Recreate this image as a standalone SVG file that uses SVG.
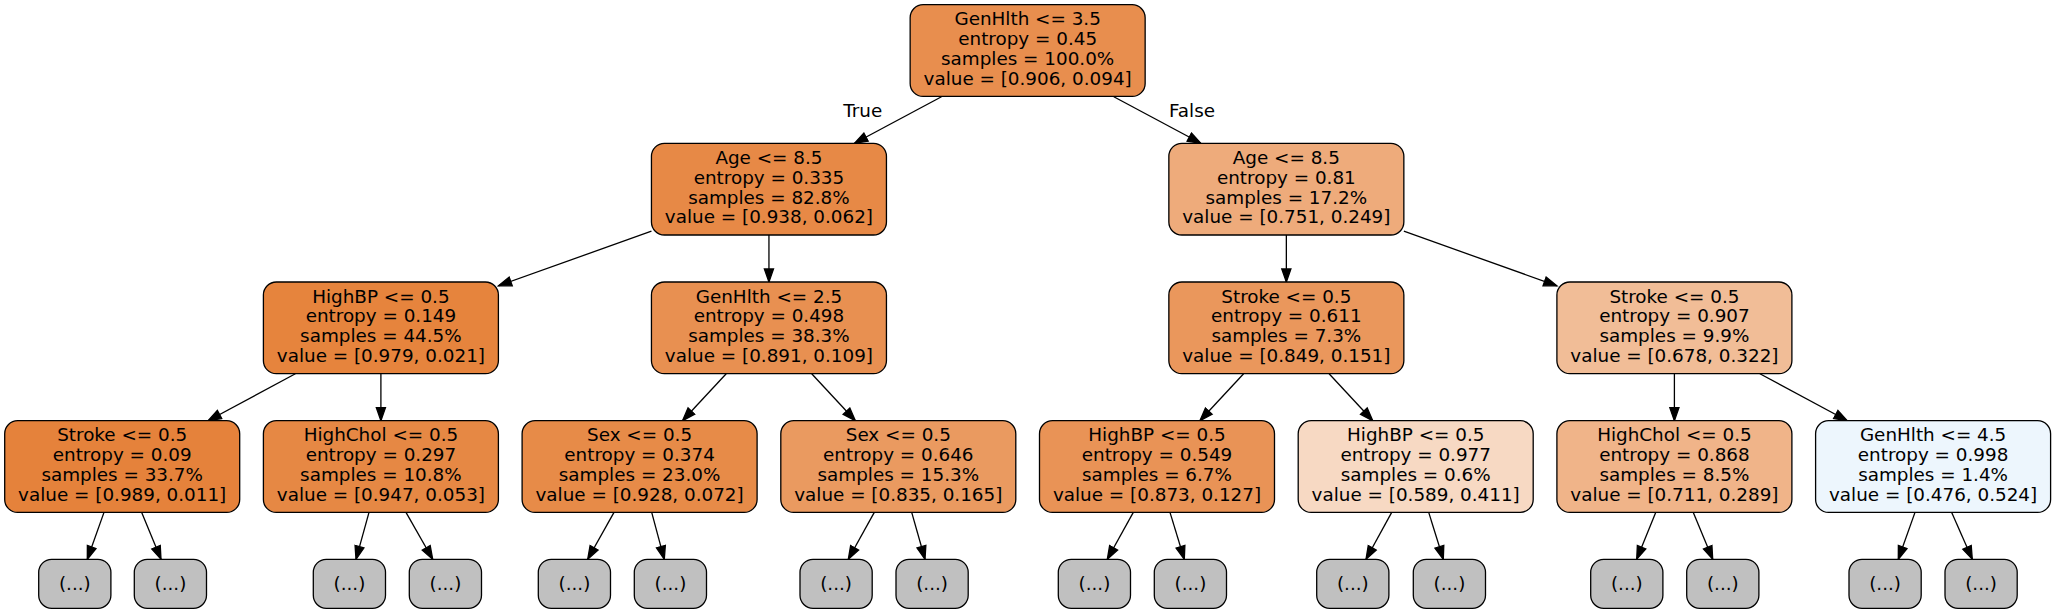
<svg xmlns="http://www.w3.org/2000/svg" width="2056" height="613" viewBox="0 0 2056 613">
<defs>
<marker id="arr" markerUnits="userSpaceOnUse" markerWidth="16" markerHeight="12" viewBox="0 -6 14 12" refX="13.1" refY="0" orient="auto">
<path d="M0,-4.6 L13.1,0 L0,4.6 z" fill="#000" stroke="#000" stroke-width="1.3"/>
</marker>
</defs>
<style>
.n rect{stroke:#000;stroke-width:1.3}
text{font-family:"DejaVu Sans","Liberation Sans",sans-serif;font-size:18.35px;fill:#000;text-anchor:middle}
.e line{stroke:#000;stroke-width:1.3;marker-end:url(#arr)}
.leaf rect{fill:#c0c0c0}
</style>
<rect width="2056" height="613" fill="#fff"/>
<g id="edges" class="e">
<line x1="941.5" y1="96.7" x2="854.5" y2="143.3"/>
<line x1="1113.8" y1="96.7" x2="1200.8" y2="143.3"/>
<line x1="651.45" y1="231.15" x2="498.4" y2="285.85"/>
<line x1="768.95" y1="235" x2="768.95" y2="282"/>
<line x1="1286.35" y1="235" x2="1286.35" y2="282"/>
<line x1="1403.85" y1="231.15" x2="1556.9" y2="285.85"/>
<line x1="295.4" y1="373.7" x2="208" y2="420.7"/>
<line x1="380.9" y1="373.7" x2="380.9" y2="420.7"/>
<line x1="726.2" y1="373.7" x2="682.5" y2="420.7"/>
<line x1="811.7" y1="373.7" x2="855.4" y2="420.7"/>
<line x1="1243.6" y1="373.7" x2="1199.9" y2="420.7"/>
<line x1="1329.1" y1="373.7" x2="1372.8" y2="420.7"/>
<line x1="1674.4" y1="373.7" x2="1674.4" y2="420.7"/>
<line x1="1759.9" y1="373.7" x2="1847.3" y2="420.7"/>
<line x1="104" y1="512.4" x2="87.3" y2="559.3"/>
<line x1="141.7" y1="512.4" x2="161" y2="559.3"/>
<line x1="369" y1="512.4" x2="356" y2="559.3"/>
<line x1="406" y1="512.4" x2="432.7" y2="559.3"/>
<line x1="614" y1="512.4" x2="587.7" y2="559.3"/>
<line x1="651.7" y1="512.4" x2="664.3" y2="559.3"/>
<line x1="874.3" y1="512.4" x2="848.3" y2="559.3"/>
<line x1="911.7" y1="512.4" x2="925" y2="559.3"/>
<line x1="1133.3" y1="512.4" x2="1107.3" y2="559.3"/>
<line x1="1170" y1="512.4" x2="1184.3" y2="559.3"/>
<line x1="1391.7" y1="512.4" x2="1366" y2="559.3"/>
<line x1="1428.7" y1="512.4" x2="1443.3" y2="559.3"/>
<line x1="1655.7" y1="512.4" x2="1636.7" y2="559.3"/>
<line x1="1693.3" y1="512.4" x2="1712.7" y2="559.3"/>
<line x1="1915" y1="512.4" x2="1898.3" y2="559.3"/>
<line x1="1951.7" y1="512.4" x2="1972.3" y2="559.3"/>
<text x="862.7" y="116.7">True</text>
<text x="1192" y="116.7">False</text>
</g>
<g id="n0" class="n"><rect x="910.15" y="4.7" width="235" height="91.7" rx="13" fill="#e88e4e"/>
<text x="1027.65" y="25.3">GenHlth &lt;= 3.5</text><text x="1027.65" y="45.15">entropy = 0.45</text><text x="1027.65" y="65">samples = 100.0%</text><text x="1027.65" y="84.85">value = [0.906, 0.094]</text></g>
<g id="n1" class="n"><rect x="651.45" y="143.3" width="235" height="91.7" rx="13" fill="#e78946"/>
<text x="768.95" y="163.9">Age &lt;= 8.5</text><text x="768.95" y="183.75">entropy = 0.335</text><text x="768.95" y="203.6">samples = 82.8%</text><text x="768.95" y="223.45">value = [0.938, 0.062]</text></g>
<g id="n2" class="n"><rect x="1168.85" y="143.3" width="235" height="91.7" rx="13" fill="#eeab7b"/>
<text x="1286.35" y="163.9">Age &lt;= 8.5</text><text x="1286.35" y="183.75">entropy = 0.81</text><text x="1286.35" y="203.6">samples = 17.2%</text><text x="1286.35" y="223.45">value = [0.751, 0.249]</text></g>
<g id="n3" class="n"><rect x="263.4" y="282" width="235" height="91.7" rx="13" fill="#e6843d"/>
<text x="380.9" y="302.6">HighBP &lt;= 0.5</text><text x="380.9" y="322.45">entropy = 0.149</text><text x="380.9" y="342.3">samples = 44.5%</text><text x="380.9" y="362.15">value = [0.979, 0.021]</text></g>
<g id="n4" class="n"><rect x="651.45" y="282" width="235" height="91.7" rx="13" fill="#e89051"/>
<text x="768.95" y="302.6">GenHlth &lt;= 2.5</text><text x="768.95" y="322.45">entropy = 0.498</text><text x="768.95" y="342.3">samples = 38.3%</text><text x="768.95" y="362.15">value = [0.891, 0.109]</text></g>
<g id="n5" class="n"><rect x="1168.85" y="282" width="235" height="91.7" rx="13" fill="#ea975c"/>
<text x="1286.35" y="302.6">Stroke &lt;= 0.5</text><text x="1286.35" y="322.45">entropy = 0.611</text><text x="1286.35" y="342.3">samples = 7.3%</text><text x="1286.35" y="362.15">value = [0.849, 0.151]</text></g>
<g id="n6" class="n"><rect x="1556.9" y="282" width="235" height="91.7" rx="13" fill="#f1bd97"/>
<text x="1674.4" y="302.6">Stroke &lt;= 0.5</text><text x="1674.4" y="322.45">entropy = 0.907</text><text x="1674.4" y="342.3">samples = 9.9%</text><text x="1674.4" y="362.15">value = [0.678, 0.322]</text></g>
<g id="n7" class="n"><rect x="4.7" y="420.7" width="235" height="91.7" rx="13" fill="#e5823b"/>
<text x="122.2" y="441.3">Stroke &lt;= 0.5</text><text x="122.2" y="461.15">entropy = 0.09</text><text x="122.2" y="481">samples = 33.7%</text><text x="122.2" y="500.85">value = [0.989, 0.011]</text></g>
<g id="n8" class="n"><rect x="263.4" y="420.7" width="235" height="91.7" rx="13" fill="#e68844"/>
<text x="380.9" y="441.3">HighChol &lt;= 0.5</text><text x="380.9" y="461.15">entropy = 0.297</text><text x="380.9" y="481">samples = 10.8%</text><text x="380.9" y="500.85">value = [0.947, 0.053]</text></g>
<g id="n9" class="n"><rect x="522.1" y="420.7" width="235" height="91.7" rx="13" fill="#e78b48"/>
<text x="639.6" y="441.3">Sex &lt;= 0.5</text><text x="639.6" y="461.15">entropy = 0.374</text><text x="639.6" y="481">samples = 23.0%</text><text x="639.6" y="500.85">value = [0.928, 0.072]</text></g>
<g id="n10" class="n"><rect x="780.8" y="420.7" width="235" height="91.7" rx="13" fill="#ea9a60"/>
<text x="898.3" y="441.3">Sex &lt;= 0.5</text><text x="898.3" y="461.15">entropy = 0.646</text><text x="898.3" y="481">samples = 15.3%</text><text x="898.3" y="500.85">value = [0.835, 0.165]</text></g>
<g id="n11" class="n"><rect x="1039.5" y="420.7" width="235" height="91.7" rx="13" fill="#e99356"/>
<text x="1157" y="441.3">HighBP &lt;= 0.5</text><text x="1157" y="461.15">entropy = 0.549</text><text x="1157" y="481">samples = 6.7%</text><text x="1157" y="500.85">value = [0.873, 0.127]</text></g>
<g id="n12" class="n"><rect x="1298.2" y="420.7" width="235" height="91.7" rx="13" fill="#f7d9c3"/>
<text x="1415.7" y="441.3">HighBP &lt;= 0.5</text><text x="1415.7" y="461.15">entropy = 0.977</text><text x="1415.7" y="481">samples = 0.6%</text><text x="1415.7" y="500.85">value = [0.589, 0.411]</text></g>
<g id="n13" class="n"><rect x="1556.9" y="420.7" width="235" height="91.7" rx="13" fill="#f0b489"/>
<text x="1674.4" y="441.3">HighChol &lt;= 0.5</text><text x="1674.4" y="461.15">entropy = 0.868</text><text x="1674.4" y="481">samples = 8.5%</text><text x="1674.4" y="500.85">value = [0.711, 0.289]</text></g>
<g id="n14" class="n"><rect x="1815.6" y="420.7" width="235" height="91.7" rx="13" fill="#edf6fd"/>
<text x="1933.1" y="441.3">GenHlth &lt;= 4.5</text><text x="1933.1" y="461.15">entropy = 0.998</text><text x="1933.1" y="481">samples = 1.4%</text><text x="1933.1" y="500.85">value = [0.476, 0.524]</text></g>
<g id="l0" class="n leaf"><rect x="38.7" y="559.3" width="72.2" height="49" rx="13"/><text x="74.8" y="589.8">(...)</text></g>
<g id="l1" class="n leaf"><rect x="134.3" y="559.3" width="72.2" height="49" rx="13"/><text x="170.4" y="589.8">(...)</text></g>
<g id="l2" class="n leaf"><rect x="313.3" y="559.3" width="72.2" height="49" rx="13"/><text x="349.4" y="589.8">(...)</text></g>
<g id="l3" class="n leaf"><rect x="409.3" y="559.3" width="72.2" height="49" rx="13"/><text x="445.4" y="589.8">(...)</text></g>
<g id="l4" class="n leaf"><rect x="538.3" y="559.3" width="72.2" height="49" rx="13"/><text x="574.4" y="589.8">(...)</text></g>
<g id="l5" class="n leaf"><rect x="634.3" y="559.3" width="72.2" height="49" rx="13"/><text x="670.4" y="589.8">(...)</text></g>
<g id="l6" class="n leaf"><rect x="800" y="559.3" width="72.2" height="49" rx="13"/><text x="836.1" y="589.8">(...)</text></g>
<g id="l7" class="n leaf"><rect x="896" y="559.3" width="72.2" height="49" rx="13"/><text x="932.1" y="589.8">(...)</text></g>
<g id="l8" class="n leaf"><rect x="1058.3" y="559.3" width="72.2" height="49" rx="13"/><text x="1094.4" y="589.8">(...)</text></g>
<g id="l9" class="n leaf"><rect x="1154.3" y="559.3" width="72.2" height="49" rx="13"/><text x="1190.4" y="589.8">(...)</text></g>
<g id="l10" class="n leaf"><rect x="1316.7" y="559.3" width="72.2" height="49" rx="13"/><text x="1352.8" y="589.8">(...)</text></g>
<g id="l11" class="n leaf"><rect x="1413.3" y="559.3" width="72.2" height="49" rx="13"/><text x="1449.4" y="589.8">(...)</text></g>
<g id="l12" class="n leaf"><rect x="1590.7" y="559.3" width="72.2" height="49" rx="13"/><text x="1626.8" y="589.8">(...)</text></g>
<g id="l13" class="n leaf"><rect x="1686.7" y="559.3" width="72.2" height="49" rx="13"/><text x="1722.8" y="589.8">(...)</text></g>
<g id="l14" class="n leaf"><rect x="1849" y="559.3" width="72.2" height="49" rx="13"/><text x="1885.1" y="589.8">(...)</text></g>
<g id="l15" class="n leaf"><rect x="1945" y="559.3" width="72.2" height="49" rx="13"/><text x="1981.1" y="589.8">(...)</text></g>
</svg>
